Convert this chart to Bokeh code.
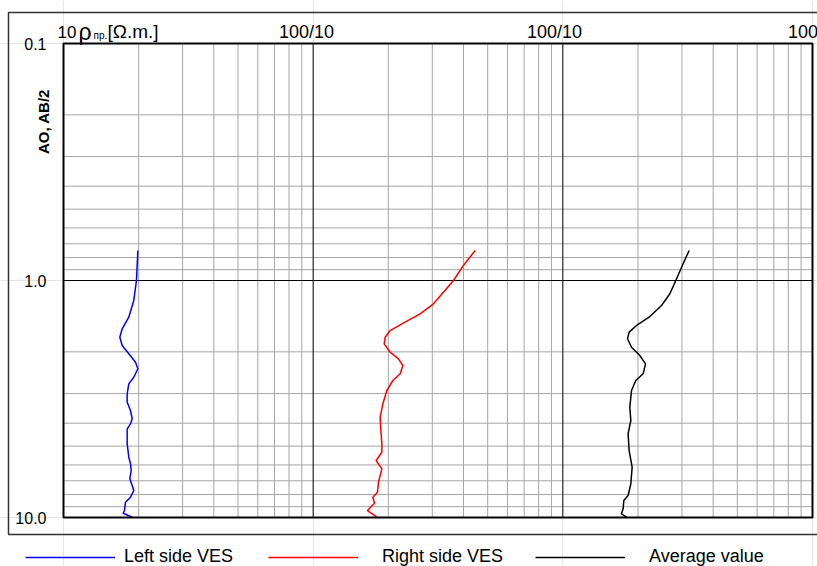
import math
from bokeh.plotting import figure
from bokeh.models import Range1d, Legend, LegendItem, ColumnDataSource
from bokeh.core.properties import value
from bokeh.embed import file_html
from bokeh.resources import INLINE

# ---------------- data ----------------
# AB/2 depths and apparent resistivity rho (Ohm.m) for each sounding curve
depth_left = [0.747, 1.0, 1.214, 1.428, 1.599, 1.735, 1.881, 2.039, 2.212, 2.358, 2.559,
              2.729, 3.006, 3.263, 3.536, 3.832, 4.024, 4.224, 4.887, 5.567, 5.934, 6.335,
              6.866, 7.328, 7.694, 8.209, 8.619, 9.344, 9.592, 9.835, 9.97]
rho_left = [19.85, 19.6, 19.12, 18.26, 17.18, 16.81, 17.18, 18.26, 19.43, 19.85, 19.12,
            18.26, 17.99, 17.99, 18.55, 18.84, 18.55, 17.99, 17.99, 18.26, 18.55, 18.67,
            18.43, 18.84, 19.12, 18.55, 17.71, 17.55, 17.34, 18.26, 18.84]

depth_right = [0.747, 0.864, 1.0, 1.121, 1.254, 1.382, 1.523, 1.626, 1.735, 1.850, 2.007,
               2.140, 2.284, 2.476, 2.642, 2.912, 3.313, 3.773, 4.295, 4.887, 5.303, 5.747,
               6.231, 7.097, 7.821, 8.209, 8.705, 9.344, 9.97]
rho_right = [44.55, 39.99, 36.47, 33.25, 30.32, 26.83, 22.66, 20.34, 19.43, 19.25, 20.34,
             21.96, 22.87, 22.31, 20.86, 19.73, 19.02, 18.55, 18.67, 18.84, 18.84, 17.88,
             18.84, 18.26, 18.10, 17.34, 17.60, 16.50, 17.99]

depth_avg = [0.747, 0.850, 1.0, 1.138, 1.275, 1.419, 1.548, 1.652, 1.762, 1.912, 2.073,
             2.247, 2.476, 2.642, 2.912, 3.424, 3.896, 4.435, 5.216, 6.135, 7.208, 8.076,
             8.478, 9.191, 9.647, 9.97]
rho_avg = [32.05, 30.32, 28.35, 26.83, 24.85, 22.31, 19.73, 18.43, 18.16, 18.84, 20.34,
           21.44, 20.97, 19.60, 18.84, 18.55, 18.72, 18.26, 18.43, 18.95, 18.72, 18.26,
           17.55, 17.44, 17.18, 17.99]

# each curve is drawn in its own decade of the shared log axis
decade_shift = [1, 10, 100]
series_names = ["Left side VES", "Right side VES", "Average value"]
series_colors = ["#0000ff", "#ff0000", "#000000"]

x_bounds = [10, 10000]           # plotted rho decades
y_bounds = [0.1, 10]             # AB/2 range (top -> bottom)
x_major = [100, 1000]
y_major = [1]
x_minor = [m * 10 ** k for k in (1, 2, 3) for m in range(2, 10)]
y_minor = [m * 10 ** k for k in (-1, 0) for m in range(2, 10)]
top_tick_values = [100, 1000, 10000]
top_tick_labels = ["100/10", "100/10", "100/10"]
y_tick_values = [0.1, 1, 10]
y_tick_labels = ["0.1", "1.0", "10.0"]

# ---------------- layout (pixels) ----------------
W, H = 817, 566
PL, PR, PT, PB = 63, 812, 43, 517          # inner plot box on the page
FONT = "Liberation Sans"
PPD_X = (PR - PL) / (math.log10(x_bounds[1]) - math.log10(x_bounds[0]))
PPD_Y = (PB - PT) / (math.log10(y_bounds[1]) - math.log10(y_bounds[0]))


def px_x(px):
    return 10 ** (math.log10(x_bounds[0]) + (px - PL) / PPD_X)


def px_y(py):
    return 10 ** (math.log10(y_bounds[0]) + (py - PT) / PPD_Y)


p = figure(width=W, height=H, x_axis_type="log", y_axis_type="log",
           x_axis_location=None, y_axis_location=None,
           x_range=Range1d(px_x(0), px_x(W)), y_range=Range1d(px_y(H), px_y(0)),
           toolbar_location=None, output_backend="svg",
           min_border=0, min_border_left=0, min_border_right=0,
           min_border_top=0, min_border_bottom=0,
           background_fill_color="white", border_fill_color="white")
p.outline_line_color = None

X0, X1 = x_bounds
Y0, Y1 = y_bounds
GRID = "#a6a6a6"

# grid
p.segment(x0=x_minor, x1=x_minor, y0=[Y0] * len(x_minor), y1=[Y1] * len(x_minor),
          line_color=GRID, line_width=1)
p.segment(x0=[X0] * len(y_minor), x1=[X1] * len(y_minor), y0=y_minor, y1=y_minor,
          line_color=GRID, line_width=1)
p.segment(x0=x_major, x1=x_major, y0=[Y0] * len(x_major), y1=[Y1] * len(x_major),
          line_color="black", line_width=1)
p.segment(x0=[X0] * len(y_major), x1=[X1] * len(y_major), y0=y_major, y1=y_major,
          line_color="black", line_width=1)

# curves
renderers = []
for depth, rho, shift, color in zip((depth_left, depth_right, depth_avg),
                                     (rho_left, rho_right, rho_avg),
                                     decade_shift, series_colors):
    src = ColumnDataSource(dict(x=[r * shift for r in rho], y=depth))
    renderers.append(p.line("x", "y", source=src, line_color=color, line_width=1.5,
                            line_join="round"))

# inner plot box
p.quad(left=[X0], right=[X1], top=[Y0], bottom=[Y1], fill_color=None,
       line_color="black", line_width=2)

# outer frame
p.quad(left=[px_x(8)], right=[px_x(W + 30)], top=[px_y(12)], bottom=[px_y(534)],
       fill_color=None, line_color="#333333", line_width=1.5)

# y tick labels
p.text(x=[px_x(PL - 17)] * len(y_tick_values), y=y_tick_values, text=y_tick_labels,
       text_align="right", text_baseline="middle", text_font=value(FONT),
       text_font_size="16px", text_color="black")

# top tick labels (label centres as seen on the page)
top_label_px = [306, 554, 815]
p.text(x=[px_x(c) for c in top_label_px],
       y=[px_y(31)] * len(top_tick_values), text=top_tick_labels,
       text_align="center", text_baseline="alphabetic", text_font=value(FONT),
       text_font_size="18px", text_color="black")

# x title: 10 ρпр.[Ω.m.]
title_parts = ["10", "ρ", "пр.", "[Ω.m.]"]
title_px = [57, 78, 93, 107]
title_base = [31, 31, 35, 31]
title_size = ["17px", "23px", "10px", "19px"]
for t, xp, yp, fs in zip(title_parts, title_px, title_base, title_size):
    p.text(x=[px_x(xp)], y=[px_y(yp)], text=[t], text_align="left",
           text_baseline="alphabetic", text_font=value(FONT), text_font_size=fs,
           text_color="black")

# y title
p.text(x=[px_x(43)], y=[px_y(121)], text=["AO, AB/2"], angle=math.pi / 2,
       text_align="center", text_baseline="middle", text_font=value(FONT),
       text_font_size="15px", text_font_style="bold", text_color="black")

# legend: one entry per block, as in the reference
legend_x = [25, 268, 535]
legend_standoff = [9, 24, 24]
for n, r, lx, so in zip(series_names, renderers, legend_x, legend_standoff):
    lg = Legend(items=[LegendItem(label=n, renderers=[r])],
                orientation="horizontal", location=(lx, -1),
                glyph_width=90, glyph_height=18, label_height=18, label_standoff=so,
                spacing=0, padding=0, margin=0, border_line_color=None,
                background_fill_alpha=0, label_text_font=FONT,
                label_text_font_size="18px", label_text_color="black")
    p.add_layout(lg, "center")

open("out.html", "w").write(file_html(p, INLINE))
